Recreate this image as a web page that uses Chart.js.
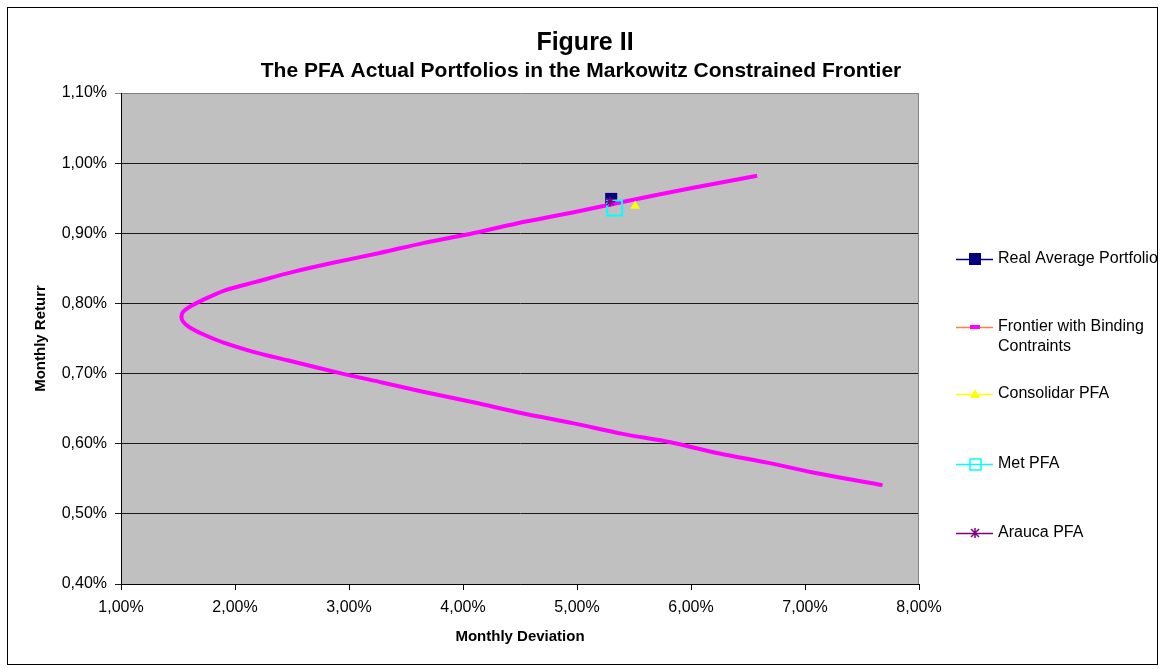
<!DOCTYPE html>
<html>
<head>
<meta charset="utf-8">
<title>Figure II</title>
<script src="https://cdn.jsdelivr.net/npm/chart.js@4/dist/chart.umd.min.js"></script>
<style>
  html, body { margin: 0; padding: 0; background: #fff; }
  #wrap { width: 1163px; height: 669px; }
</style>
</head>
<body>
<div id="wrap"><canvas id="grafico" width="1163" height="669"></canvas></div>
<script>
// Frontier (monthly deviation %, monthly return %)
const frontierDev = [6.58, 6.02, 5.44, 4.94, 4.47, 4.06, 3.65, 3.27, 2.86, 2.51, 2.19, 1.90, 1.72, 1.60, 1.545, 1.53,
                     1.545, 1.60, 1.72, 1.90, 2.16, 2.46, 2.94, 3.30, 3.65, 4.09, 4.53, 4.97, 5.40, 5.82, 6.25, 6.67, 7.07, 7.68];
const frontierRet = [0.982, 0.965, 0.946, 0.929, 0.914, 0.899, 0.886, 0.872, 0.858, 0.845, 0.831, 0.818, 0.805, 0.795, 0.788, 0.781,
                     0.774, 0.766, 0.756, 0.744, 0.731, 0.719, 0.700, 0.687, 0.674, 0.659, 0.643, 0.629, 0.614, 0.602, 0.586, 0.573, 0.559, 0.541];

// Actual portfolios
const realAvg    = { dev: 5.30, ret: 0.949 };
const consolidar = { dev: 5.51, ret: 0.939 };
const met        = { dev: 5.33, ret: 0.936 };
const arauca     = { dev: 5.29, ret: 0.945 };

const seriesNames = ["Real Average Portfolio", "Frontier with Binding Contraints", "Consolidar PFA", "Met PFA", "Arauca PFA"];
const xTicks = [1, 2, 3, 4, 5, 6, 7, 8];
const yTicks = [0.4, 0.5, 0.6, 0.7, 0.8, 0.9, 1.0, 1.1];
const titulo = "Figure II";
const subtitulo = "The PFA Actual Portfolios in the Markowitz Constrained Frontier";

const fonte = '"Liberation Sans", Arial, sans-serif';
const pct = v => Number(v).toFixed(2).replace(".", ",") + "%";

// fundo, moldura, titulos e legenda
const moldura = {
  id: "moldura",
  beforeDraw(chart) {
    const { ctx, chartArea: a } = chart;
    ctx.save();
    ctx.fillStyle = "#fff";
    ctx.fillRect(0, 0, chart.width, chart.height);
    ctx.strokeStyle = "#000";
    ctx.lineWidth = 1;
    ctx.strokeRect(7.5, 7.5, 1150, 657);
    ctx.fillStyle = "#c0c0c0";
    ctx.fillRect(a.left, a.top, a.right - a.left, a.bottom - a.top);

    // titulos
    ctx.fillStyle = "#000";
    ctx.textAlign = "center";
    ctx.textBaseline = "alphabetic";
    ctx.font = "bold 25px " + fonte;
    ctx.fillText(titulo, 585, 50);
    ctx.font = "bold 21px " + fonte;
    ctx.fillText(subtitulo, 581, 77);
    ctx.restore();
  },
  beforeDatasetsDraw(chart) {
    const { ctx, chartArea: a } = chart;
    ctx.save();
    ctx.strokeStyle = "#808080";
    ctx.lineWidth = 1;
    ctx.beginPath();
    ctx.moveTo(Math.round(a.right) - 0.5, a.top);
    ctx.lineTo(Math.round(a.right) - 0.5, a.bottom);
    ctx.stroke();
    ctx.restore();
  },
  afterDraw(chart) {
    const ctx = chart.ctx;
    const x0 = 956, x1 = 993, mx = 975, tx = 998;
    const itens = [
      { y: 259, line: "#000080", text: [seriesNames[0]], mark: "square" },
      { y: 327, line: "#ff8040", text: ["Frontier with Binding", "Contraints"], mark: "dash" },
      { y: 394, line: "#ffff00", text: [seriesNames[2]], mark: "tri" },
      { y: 464, line: "#00ffff", text: [seriesNames[3]], mark: "hollow" },
      { y: 533, line: "#800080", text: [seriesNames[4]], mark: "star" }
    ];
    ctx.save();
    itens.forEach(it => {
      ctx.strokeStyle = it.line;
      ctx.lineWidth = 1.5;
      ctx.beginPath();
      ctx.moveTo(x0, it.y + 0.5);
      ctx.lineTo(x1, it.y + 0.5);
      ctx.stroke();
      if (it.mark === "square") {
        ctx.fillStyle = "#000080";
        ctx.fillRect(mx - 6, it.y - 6, 12, 12);
      } else if (it.mark === "dash") {
        ctx.fillStyle = "#ff00ff";
        ctx.fillRect(mx - 5, it.y - 2, 10, 4);
      } else if (it.mark === "tri") {
        ctx.fillStyle = "#ffff00";
        ctx.beginPath();
        ctx.moveTo(mx, it.y - 5);
        ctx.lineTo(mx + 5, it.y + 4);
        ctx.lineTo(mx - 5, it.y + 4);
        ctx.closePath();
        ctx.fill();
      } else if (it.mark === "hollow") {
        ctx.strokeStyle = "#00ffff";
        ctx.lineWidth = 1.5;
        ctx.strokeRect(mx - 5, it.y - 5, 11, 11);
      } else if (it.mark === "star") {
        ctx.strokeStyle = "#800080";
        ctx.lineWidth = 1.5;
        ctx.beginPath();
        ctx.moveTo(mx - 4, it.y - 4); ctx.lineTo(mx + 4, it.y + 4);
        ctx.moveTo(mx + 4, it.y - 4); ctx.lineTo(mx - 4, it.y + 4);
        ctx.moveTo(mx, it.y - 5); ctx.lineTo(mx, it.y + 5);
        ctx.stroke();
      }
      ctx.fillStyle = "#000";
      ctx.font = "16px " + fonte;
      ctx.textBaseline = "middle";
      ctx.textAlign = "left";
      it.text.forEach((t, i) => ctx.fillText(t, tx, it.y + i * 20));
    });
    ctx.restore();
  }
};

const frontier = frontierDev.map((d, i) => ({ x: d, y: frontierRet[i] }));

new Chart(document.getElementById("grafico").getContext("2d"), {
  type: "scatter",
  data: {
    datasets: [
      { label: seriesNames[0], data: [{ x: realAvg.dev, y: realAvg.ret }], pointStyle: "rect", pointRadius: 8.5,
        backgroundColor: "#000080", borderColor: "#000080", borderWidth: 0, order: 5 },
      { label: seriesNames[1], data: frontier, showLine: true, borderColor: "#ff00ff", borderWidth: 4,
        pointRadius: 0, tension: 0.3, fill: false, order: 4 },
      { label: seriesNames[2], data: [{ x: consolidar.dev, y: consolidar.ret }], pointStyle: "triangle", pointRadius: 5.5,
        backgroundColor: "#ffff00", borderColor: "#ffff00", borderWidth: 0, order: 3 },
      { label: seriesNames[3], data: [{ x: met.dev, y: met.ret }], pointStyle: "rect", pointRadius: 10.5,
        backgroundColor: "rgba(0,0,0,0)", borderColor: "#00ffff", borderWidth: 2, order: 2 },
      { label: seriesNames[4], data: [{ x: arauca.dev, y: arauca.ret }], pointStyle: "star", pointRadius: 5,
        backgroundColor: "#800080", borderColor: "#800080", borderWidth: 1.5, order: 1 }
    ]
  },
  options: {
    responsive: false,
    animation: false,
    devicePixelRatio: 1,
    layout: { padding: { left: 0, right: 244, top: 93, bottom: 0 } },
    plugins: {
      legend: { display: false },
      tooltip: { enabled: false },
      title: { display: false },
      subtitle: { display: false }
    },
    scales: {
      x: {
        type: "linear", min: xTicks[0], max: xTicks[xTicks.length - 1],
        afterBuildTicks: s => { s.ticks = xTicks.map(v => ({ value: v })); },
        afterFit: s => { s.height = 85; },
        ticks: { callback: pct, color: "#000", font: { family: fonte, size: 16 }, padding: 8, maxRotation: 0 },
        grid: { drawOnChartArea: false, drawTicks: true, tickLength: 6, color: "#000" },
        border: { color: "#000", width: 1 },
        title: {
          display: true, text: "Monthly Deviation", color: "#000",
          font: { family: fonte, size: 15, weight: "bold" }, padding: { top: 0, bottom: 23 }
        }
      },
      y: {
        type: "linear", min: yTicks[0], max: yTicks[yTicks.length - 1],
        afterBuildTicks: s => { s.ticks = yTicks.map(v => ({ value: v })); },
        afterFit: s => { s.width = 121; },
        ticks: { callback: pct, color: "#000", font: { family: fonte, size: 16 }, padding: 8 },
        grid: {
          drawTicks: true, tickLength: 6,
          color: c => (c.tick && c.tick.value > 1.05 ? "#808080" : "#1a1a1a")
        },
        border: { color: "#000", width: 1 },
        title: {
          display: true, text: "Monthly Returr", color: "#000",
          font: { family: fonte, size: 15, weight: "bold" }, padding: { top: 32, bottom: 0 }
        }
      }
    }
  },
  plugins: [moldura]
});
</script>
</body>
</html>
